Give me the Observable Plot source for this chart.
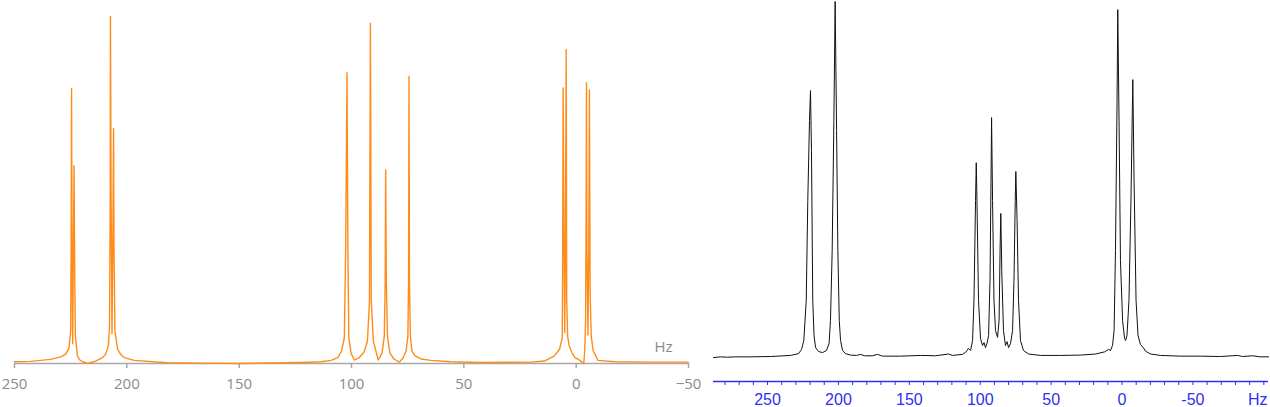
<!DOCTYPE html>
<html>
<head>
<meta charset="utf-8">
<script src="https://cdn.jsdelivr.net/npm/d3@7"></script>
<script src="https://cdn.jsdelivr.net/npm/@observablehq/plot@0.6"></script>
<style>
  html, body { margin: 0; padding: 0; background: #fff; }
  #wrap { position: relative; width: 1270px; height: 407px; overflow: hidden; }
  #left { position: absolute; left: 0; top: 0; }
  #right { position: absolute; left: 700px; top: 0; }
</style>
</head>
<body>
<div id="wrap"><div id="left"></div><div id="right"></div></div>
<script>
// Simulated spectrum (left, orange): frequency in Hz, relative intensity (tallest = 100)
const simHz = [250, 242.8, 233.9, 229.4, 227.2, 225.7, 225.0, 224.8, 224.6, 224.4, 224.1, 223.8, 223.5, 223.2, 222.9, 222.0, 220.9, 219.7,
  217.5, 214.6, 210.8, 209.4, 208.2, 207.7, 207.4, 207.3, 207.0, 206.6, 206.2, 205.9, 205.7, 205.3, 204.1, 202.7, 201.2, 196.7, 181.9,
  167.0, 149.2, 122.5, 113.6, 109.1, 106.1, 104.4, 103.2, 102.6, 102.0, 101.6, 101.2, 100.2, 98.8, 96.7, 94.4, 92.9, 92.0, 91.6, 91.2,
  90.3, 88.9, 88.1, 86.4, 85.4, 85.0, 84.8, 84.5, 84.0, 82.9, 81.1, 78.7, 77.1, 75.7, 74.9, 74.6, 74.4, 74.2, 73.8, 73.1, 71.7, 69.0,
  64.6, 55.7, 42.3, 20.0, 14.1, 9.7, 7.4, 6.2, 6.0, 5.8, 5.4, 5.1, 4.8, 4.45, 4.2, 3.8, 3.1, 1.8, 0.45, -0.76, -2.2, -3.4, -3.8, -4.2,
  -4.45, -4.6, -4.8, -5.25, -5.6, -5.9, -6.2, -6.7, -7.6, -9.7, -17.1, -31.9, -50];
const simIntensity = [0.5, 0.6, 1.2, 1.9, 2.7, 4.5, 9.4, 32.5, 79.2, 32.5, 5.7, 32.5, 57.0, 26.7, 7.9, 2.2, 1.0, 0.5,
  0, 0.5, 1.7, 2.7, 5.1, 10.8, 46.9, 100, 46.9, 8.6, 38.2, 67.7, 32.5, 9.4, 4.1, 2.6, 1.7, 0.9, 0.2,
  0.1, 0, 0.3, 0.5, 0.9, 1.7, 3.6, 7.4, 32.5, 83.8, 32.5, 7.6, 3.0, 1.0, 1.6, 3.3, 6.5, 18.0, 98.0, 18.0,
  6.5, 3.0, 1.0, 3.0, 7.9, 23.8, 55.8, 23.8, 7.9, 3.0, 1.3, 0.4, 1.6, 3.6, 7.9, 23.8, 82.7, 23.8, 7.9, 3.6, 2.2, 1.3,
  0.9, 0.5, 0.3, 0.4, 0.7, 2.2, 4.1, 7.4, 32.5, 79.4, 32.5, 8.9, 32.5, 90.5, 18.0, 7.9, 5.1, 3.0, 1.6, 1.3, 0.6, 0, 3.6, 12.3,
  46.9, 80.9, 32.5, 8.2, 32.5, 78.8, 20.9, 7.9, 3.6, 0.9, 0.5, 0.4, 0.4];
const simTicks = [250, 200, 150, 100, 50, 0, -50];

// Experimental spectrum (right, black)
const expHz = [288.1, 283.1, 278.2, 272.6, 262.0, 247.9, 233.8, 228.1, 226.0, 224.4, 222.7, 221.6, 220.4, 219.7, 219.0, 218.1, 217.2,
  216.1, 214.0, 211.2, 208.4, 206.6, 205.6, 204.4, 203.2, 202.3, 201.3, 200.4, 199.4, 198.5, 197.1, 195.0, 191.5, 187.3, 184.4, 181.6,
  176.0, 172.4, 168.9, 156.2, 142.1, 131.5, 122.4, 119.5, 112.5, 109.7, 108.3, 106.8, 105.4, 104.4, 103.3, 102.8, 102.3, 101.2, 99.8,
  98.4, 97.3, 96.3, 95.2, 94.1, 93.1, 92.4, 92.0, 91.3, 90.3, 89.2, 87.8, 86.7, 86.0, 85.5, 84.8, 83.6, 82.2, 81.1, 80.0, 78.6, 77.2,
  76.2, 75.3, 74.9, 74.0, 73.0, 71.6, 69.5, 65.9, 57.5, 43.4, 29.3, 18.7, 12.3, 9.5, 8.1, 6.7, 5.6, 4.6, 3.5, 3.0, 2.1, 1.1, -0.4,
  -1.8, -2.5, -3.5, -4.9, -6.3, -7.6, -8.5, -9.9, -11.3, -13.0, -15.0, -16.6, -20.1, -27.2, -41.3, -55.4, -69.5, -81.5, -85.0, -92.0,
  -97.6, -103.3];
const expIntensity = [-0.3, -0.1, -0.2, -0.1, -0.1, 0, 0.3, 0.8, 2.0, 4.5, 15.8, 43.9, 66.5, 74.9, 58.0, 15.8, 5.9,
  2.5, 1.4, 1.1, 1.7, 3.7, 10.1, 29.9, 66.5, 100, 63.7, 29.9, 10.1, 4.5, 1.7, 0.8, 0.4, 0.3, 0.6, 0.2,
  0.2, 0.6, 0.1, 0.1, 0.3, 0.2, 0.7, 0.3, 0.6, 1.4, 2.3, 1.7, 4.5, 15.8, 43.9, 54.6, 43.9, 15.8, 5.1,
  3.1, 3.9, 2.5, 3.7, 5.9, 21.4, 49.6, 67.3, 43.9, 15.8, 7.3, 5.4, 10.1, 29.9, 40.3, 24.2, 7.3, 3.1, 4.2, 2.5, 3.7, 7.3,
  21.4, 43.9, 52.1, 38.3, 15.8, 4.5, 1.7, 0.7, 0.3, 0.3, 0.4, 0.7, 1.3, 2.0, 1.7, 3.1, 7.3, 29.9, 72.1, 97.7, 66.5, 27.0, 10.1,
  5.1, 4.5, 5.9, 15.8, 43.9, 78.0, 49.6, 15.8, 5.9, 3.4, 2.5, 1.5, 0.7, 0.3, 0.1, 0.1, 0, 0.3, 0, 0.2,
  -0.1, -0.1];
const expMajorTicks = [250, 200, 150, 100, 50, 0, -50];
const expMinorTicks = d3.range(280, -101, -10);

const simRows = simHz.map((hz, i) => ({hz, intensity: simIntensity[i]}));
const expRows = expHz.map((hz, i) => ({hz, intensity: expIntensity[i]}));

const orange = "#ff8c1a";
const blue = "#2f2ff0";

const left = Plot.plot({
  width: 705, height: 407,
  marginLeft: 14, marginRight: 17, marginTop: 16, marginBottom: 44,
  x: {domain: [250, -50]},
  y: {domain: [0, 100], axis: null},
  style: {fontFamily: "'Open Sans', sans-serif", fontSize: "15px", color: "#8a8a8a", background: "transparent", overflow: "visible"},
  marks: [
    Plot.ruleY([0], {stroke: "#a8a8a8", strokeWidth: 1.5}),
    Plot.axisX(simTicks, {tickSize: 5, tickPadding: 10, stroke: "#a8a8a8", strokeWidth: 1.5, fill: "#8a8a8a", label: null,
      tickFormat: d => d < 0 ? "\u2212" + (-d) : String(d)}),
    Plot.line(simRows, {x: "hz", y: "intensity", stroke: orange, strokeWidth: 1.4}),
    Plot.text(["Hz"], {frameAnchor: "bottom-right", textAnchor: "end", lineAnchor: "middle", dx: -16, dy: -16, fill: "#8a8a8a", fontSize: 15})
  ]
});
document.getElementById("left").appendChild(left);

const right = Plot.plot({
  width: 570, height: 407,
  marginLeft: 13, marginRight: 2, marginTop: 1, marginBottom: 26,
  x: {domain: [288.1, -103.3]},
  y: {domain: [0, 100], axis: null, insetBottom: 25},
  style: {fontFamily: "'Liberation Sans', Arial, sans-serif", fontSize: "16px", color: blue, background: "transparent", overflow: "visible"},
  marks: [
    Plot.ruleY([0], {dy: 25, stroke: blue, strokeWidth: 1.5}),
    Plot.axisX(expMinorTicks, {tickSize: 4, tickPadding: 8, stroke: blue, fill: blue, label: null,
      tickFormat: d => expMajorTicks.includes(d) ? String(d) : ""}),
    Plot.line(expRows, {x: "hz", y: "intensity", stroke: "#111", strokeWidth: 1}),
    Plot.text(["Hz"], {frameAnchor: "bottom-right", textAnchor: "end", lineAnchor: "middle", dx: -1, dy: 18, fill: blue, fontSize: 16})
  ]
});
document.getElementById("right").appendChild(right);
</script>
</body>
</html>
